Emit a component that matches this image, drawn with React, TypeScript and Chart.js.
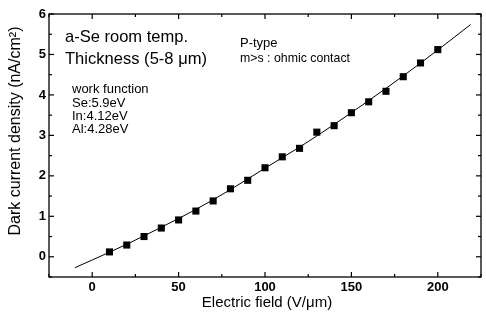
import React, { useEffect, useRef } from 'react';
import { Chart, registerables } from 'chart.js';

Chart.register(...registerables);

// Measured data (electric field in V/µm, dark current density in nA/cm²)
const fieldValues = [10, 20, 30, 40, 50, 60, 70, 80, 90, 100, 110, 120, 130, 140, 150, 160, 170, 180, 190, 200];
const currentDensity = [0.12, 0.29, 0.5, 0.71, 0.91, 1.13, 1.38, 1.68, 1.89, 2.2, 2.47, 2.68, 3.08, 3.24, 3.56, 3.83, 4.09, 4.45, 4.79, 5.12];

// Fitted curve
const fitField = [-10, 0, 20, 40, 60, 80, 100, 120, 140, 160, 180, 200, 219];
const fitDensity = [-0.27, -0.08, 0.31, 0.73, 1.17, 1.66, 2.19, 2.71, 3.27, 3.86, 4.47, 5.11, 5.74];

// Axes
const xTickLabels = [0, 50, 100, 150, 200];
const yTickLabels = [0, 1, 2, 3, 4, 5, 6];
const xRange = [-25, 225];
const yRange = [-0.5, 6];

// Texts
const xAxisTitle = 'Electric field (V/\u03bcm)';
const yAxisTitle = 'Dark current density (nA/cm\u00b2)';
const noteTitle = ['a-Se room temp.', 'Thickness (5-8 \u03bcm)'];
const noteWork = ['work function', 'Se:5.9eV', 'In:4.12eV', 'Al:4.28eV'];
const noteType = ['P-type', 'm>s : ohmic contact'];

const FONT = '"Liberation Sans", Arial, sans-serif';

const framePlugin = {
  id: 'frameAndNotes',
  afterDraw(chart: any) {
    const ctx = chart.ctx as CanvasRenderingContext2D;
    const { left, right, top, bottom } = chart.chartArea;
    const xs = chart.scales.x;
    const ys = chart.scales.y;
    ctx.save();
    ctx.strokeStyle = '#000';
    ctx.lineWidth = 1.3;
    ctx.strokeRect(left, top, right - left, bottom - top);

    ctx.lineWidth = 1.2;
    const seg = (x1: number, y1: number, x2: number, y2: number) => {
      ctx.beginPath();
      ctx.moveTo(x1, y1);
      ctx.lineTo(x2, y2);
      ctx.stroke();
    };
    for (let v = xs.min; v <= xs.max + 1e-9; v += 25) {
      const px = xs.getPixelForValue(v);
      const major = Math.abs(v % 50) < 1e-6;
      const len = major ? 5 : 3;
      seg(px, bottom, px, bottom - len);
      seg(px, top, px, top + len);
    }
    for (let v = ys.min; v <= ys.max + 1e-9; v += 0.5) {
      const py = ys.getPixelForValue(v);
      const major = Math.abs(v - Math.round(v)) < 1e-6;
      const len = major ? 5 : 3;
      seg(left, py, left + len, py);
      seg(right, py, right - len, py);
    }

    ctx.fillStyle = '#000';
    ctx.textBaseline = 'alphabetic';
    ctx.textAlign = 'left';

    ctx.font = `17px ${FONT}`;
    ctx.fillText(noteTitle[0], 65, 42, 123);
    ctx.fillText(noteTitle[1], 65, 64, 142);

    ctx.font = `13px ${FONT}`;
    const wb = [93, 107, 120, 133];
    noteWork.forEach((t, i) => ctx.fillText(t, 72, wb[i]));

    ctx.fillText(noteType[0], 240, 47);
    ctx.fillText(noteType[1], 240, 62, 110);

    ctx.font = `15px ${FONT}`;
    ctx.textAlign = 'center';
    ctx.fillText(xAxisTitle, 267, 307, 132);

    ctx.save();
    ctx.translate(16, 131);
    ctx.rotate(-Math.PI / 2);
    ctx.font = `16px ${FONT}`;
    ctx.textBaseline = 'middle';
    ctx.fillText(yAxisTitle, 0, 0, 235);
    ctx.restore();

    ctx.restore();
  },
};

export default function App() {
  const canvasRef = useRef<HTMLCanvasElement | null>(null);

  useEffect(() => {
    if (!canvasRef.current) return;
    const chart = new Chart(canvasRef.current, {
      type: 'scatter',
      data: {
        datasets: [
          {
            label: 'fit',
            data: fitField.map((x, i) => ({ x, y: fitDensity[i] })),
            showLine: true,
            borderColor: '#000',
            borderWidth: 1,
            pointRadius: 0,
            tension: 0.4,
            cubicInterpolationMode: 'monotone',
          } as any,
          {
            label: 'data',
            data: fieldValues.map((x, i) => ({ x, y: currentDensity[i] })),
            pointStyle: 'rect',
            pointRadius: 5,
            backgroundColor: '#000',
            borderColor: '#000',
            borderWidth: 0,
          } as any,
        ],
      },
      options: {
        responsive: false,
        animation: false,
        layout: { padding: { top: 14, right: 2, left: 0, bottom: 0 } },
        plugins: {
          legend: { display: false },
          tooltip: { enabled: false },
        },
        scales: {
          x: {
            type: 'linear',
            min: xRange[0],
            max: xRange[1],
            grid: { display: false, drawTicks: false },
            border: { display: false },
            afterBuildTicks: (scale: any) => {
              scale.ticks = xTickLabels.map((v) => ({ value: v }));
            },
            afterFit: (scale: any) => {
              scale.height = 45;
            },
            ticks: {
              color: '#000',
              padding: 3,
              maxRotation: 0,
              font: { family: FONT, size: 13, weight: 'bold' },
            },
          },
          y: {
            type: 'linear',
            min: yRange[0],
            max: yRange[1],
            grid: { display: false, drawTicks: false },
            border: { display: false },
            afterBuildTicks: (scale: any) => {
              scale.ticks = yTickLabels.map((v) => ({ value: v }));
            },
            afterFit: (scale: any) => {
              scale.width = 49;
            },
            ticks: {
              color: '#000',
              padding: 3,
              font: { family: FONT, size: 13, weight: 'bold' },
            },
          },
        },
      },
      plugins: [framePlugin],
    });
    return () => chart.destroy();
  }, []);

  return (
    <div style={{ position: 'fixed', left: 0, top: 0, width: 486, height: 322, background: '#fff' }}>
      <canvas ref={canvasRef} width={486} height={322} style={{ display: 'block' }} />
    </div>
  );
}
